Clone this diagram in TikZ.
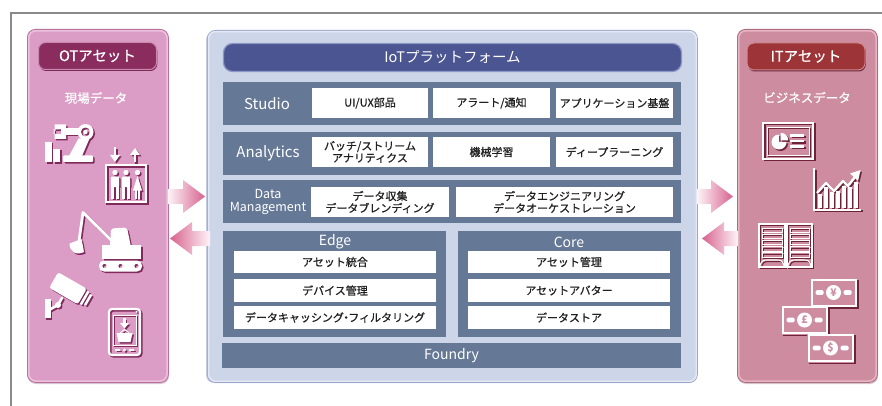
\documentclass[tikz,border=0pt]{standalone}
\usepackage{fontspec}
\setmainfont{Noto Sans CJK JP}
\newfontfamily\jpmed{Noto Sans CJK JP}[FakeBold=0.7]
\usetikzlibrary{calc}

\definecolor{framec}{HTML}{8A8A8A}
\definecolor{otbg}{HTML}{DB9CC5}
\definecolor{otedge}{HTML}{B8709E}
\definecolor{otlight}{HTML}{EDC1DB}
\definecolor{otlabc}{HTML}{8A2C5E}
\definecolor{otlabedge}{HTML}{C989AE}
\definecolor{otshadow}{HTML}{7E2A5A}
\definecolor{itbg}{HTML}{CD8CA0}
\definecolor{itedge}{HTML}{AE6C81}
\definecolor{itlight}{HTML}{E5B5C3}
\definecolor{itlabc}{HTML}{9D3437}
\definecolor{itlabedge}{HTML}{CE8A8F}
\definecolor{itshadow}{HTML}{6E2438}
\definecolor{iotbg}{HTML}{CDD6E8}
\definecolor{iotedge}{HTML}{9AA6CC}
\definecolor{iotlight}{HTML}{E4E9F4}
\definecolor{barc}{HTML}{4B5592}
\definecolor{baredge}{HTML}{8E96C6}
\definecolor{rowc}{HTML}{657896}
\definecolor{txtc}{HTML}{202020}
\definecolor{arrowdark}{HTML}{D8628D}
\definecolor{arrowlight}{HTML}{FDF4F8}

\newcommand\fs[1]{\fontsize{#1}{#1}\selectfont}

% icon drawn twice: an offset dark copy, then the white copy on top
\newcommand\placeicon[3]{%
  \begin{scope}[shift={(1.5,1.5)},icf/.style={fill=#2},icd/.style={draw=#2},ich/.style={fill=#2}]
    #1
  \end{scope}
  \begin{scope}[icf/.style={fill=white},icd/.style={draw=white},ich/.style={fill=#3}]
    #1
  \end{scope}}

% ---- OT icons ----
\newcommand\iconrobot{%
  \fill[icf] (45,142) rectangle (51.5,162);
  \fill[icf] (53,149) rectangle (60,162);
  \fill[icf,rounded corners=1] (63,155.5) rectangle (93,162);
  \fill[icf] (69,156) -- (78.5,138.5) -- (89.5,138.5) -- (82,156) -- cycle;
  \fill[icf] (64,128.5) rectangle (79,135);
  \fill[icf,even odd rule] (85.5,132) circle (8) (85.5,132) circle (4.6);
  \fill[icf] (85.5,132) circle (2.2);
  \fill[icf,even odd rule] (54.5,124.5) rectangle (66,139) (53.5,129.5) rectangle (61,134);}

\newcommand\iconlift{%
  \draw[icd,line width=2.2] (106,165) rectangle (146,202);
  \draw[icd,line width=2.4] (115,147.5) -- (115,157);
  \fill[icf] (110,155) -- (120,155) -- (115,162) -- cycle;
  \draw[icd,line width=2.4] (135,162) -- (135,153);
  \fill[icf] (130,155) -- (140,155) -- (135,148) -- cycle;
  \foreach \px in {115,126}{%
    \fill[icf] (\px,172.5) circle (2.7);
    \fill[icf,rounded corners=1] (\px-4.2,176.5) rectangle (\px+4.2,187);
    \fill[icf] (\px-3.6,186) rectangle (\px-0.6,198.5);
    \fill[icf] (\px+0.6,186) rectangle (\px+3.6,198.5);}
  \fill[icf] (137.5,172.5) circle (2.7);
  \fill[icf] (137.5,176) -- (142,190.5) -- (133,190.5) -- cycle;
  \fill[icf] (134.8,190) rectangle (136.8,198.5);
  \fill[icf] (138.2,190) rectangle (140.2,198.5);}

\newcommand\icondigger{%
  \fill[icf,even odd rule] (99,260.5) [rounded corners=5] rectangle (142,271.5) [sharp corners]
       (104.5,266) circle (2.2) (120.5,266) circle (2.2) (136.5,266) circle (2.2);
  \fill[icf] (102,245) rectangle (141,259);
  \fill[icf,rounded corners=2] (110,247) -- (111,228.5) -- (127,227.5) -- (131,247) -- cycle;
  \draw[icd,line width=2.8,line join=round,line cap=round] (113,242) -- (83,212.5) -- (79,241);
  \fill[icf] (69.5,243.5) .. controls (69.5,251.5) and (76,256) .. (84,252) -- (81.5,239) -- cycle;}

\newcommand\iconcam{%
  \fill[icf] (44.5,299) rectangle (50.5,318);
  \draw[icd,line width=2.6,line cap=round] (49,310) -- (58,305) -- (62,298);
  \fill[icf] (58,305) circle (3);
  \begin{scope}[shift={(71,290)},rotate=-30]
    \fill[icf,rounded corners=2.5] (-20,-9) rectangle (13,9);
    \fill[icf] (14.5,-7.5) rectangle (17,7.5);
    \fill[icf] (18.5,-6) rectangle (21,6);
  \end{scope}}

\newcommand\iconphone{%
  \draw[icd,line width=2.2,rounded corners=3] (109,309) rectangle (140,355);
  \draw[icd,line width=0.9] (113,315) rectangle (136,345);
  \fill[icf] (136.5,311.5) circle (1);
  \draw[icd,line width=1.6] (115,350) -- (120,350) (129,350) -- (134,350);
  \fill[icf] (124.5,350) circle (1.6);
  \draw[icd,line width=2.2] (124.5,318) -- (124.5,324);
  \fill[icf] (120,323) -- (129,323) -- (124.5,328.5) -- cycle;
  \draw[icd,line width=1] (120,333) -- (124.5,329.5) -- (129,333);
  \fill[icf] (116.5,333) -- (132.5,333) -- (130.5,342) -- (118.5,342) -- cycle;}

% ---- IT icons ----
\newcommand\iconcard{%
  \draw[icd,line width=2] (763,123) rectangle (813,159);
  \draw[icd,line width=0.8] (767,127) rectangle (809,155);
  \fill[icf] (779,142) -- ++(7.5,0) arc[start angle=0,end angle=270,radius=7.5] -- cycle;
  \fill[icf] (780.7,140.3) -- ++(0,-7.5) arc[start angle=270,end angle=360,radius=7.5] -- cycle;
  \draw[icd,line width=2.2] (790,135.5) -- (804,135.5) (790,141) -- (804,141) (790,146.5) -- (804,146.5);}

\newcommand\iconchart{%
  \draw[icd,line width=2] (814,168) -- (814,209.5) -- (861,209.5);
  \foreach \bx/\by in {820/194,826/187,832/192,838/191,844/186,850/187,856/182}{%
    \fill[icf] (\bx-1.9,\by) rectangle (\bx+1.9,207.5);}
  \draw[icd,line width=2.4,line join=round] (817,193) -- (826,183) -- (834,191) -- (843,181) -- (848,186) -- (855,177);
  \fill[icf] (850,173.5) -- (860.5,170) -- (858,181) -- cycle;}

\newcommand\iconbook{%
  \draw[icd,line width=1.8] (759,224) rectangle (785,267);
  \draw[icd,line width=1.8] (787,224) rectangle (812,267);
  \foreach \i in {0,...,4}{%
    \draw[icd,line width=1] (762,228+\i*6.2) rectangle (782,232.5+\i*6.2);
    \draw[icd,line width=1] (790,228+\i*6.2) rectangle (809,232.5+\i*6.2);}
  \draw[icd,line width=1.1] (760,266) .. controls (761,261) and (763,260) .. (767,260) -- (777,260) .. controls (781,260) and (783,261) .. (784,266);
  \draw[icd,line width=1.1] (788,266) .. controls (789,261) and (791,260) .. (795,260) -- (804,260) .. controls (808,260) and (810,261) .. (811,266);}

\newcommand\billbody[2]{%
  \fill[ich] (#1-23.5,#2-14.5) rectangle (#1+23.5,#2+14.5);
  \draw[icd,line width=2] (#1-22,#2-13) rectangle (#1+22,#2+13);
  \fill[icf] (#1,#2) circle (7.5);
  \fill[icf,rounded corners=1.3] (#1-18,#2-2.3) rectangle (#1-10,#2+2.3);
  \fill[icf,rounded corners=1.3] (#1+10,#2-2.3) rectangle (#1+18,#2+2.3);}

% ---- block arrows between the panels ----
\newcommand\arrowR[2]{%
  \shade[left color=arrowlight,right color=arrowdark] let \p1=(#1), \p2=(#2) in
    (\x1,{\y1+7.5pt}) -- ({\x2-22pt},{\y1+7.5pt}) -- ({\x2-22pt},{\y1+16.5pt}) -- (\x2,\y1)
    -- ({\x2-22pt},{\y1-16.5pt}) -- ({\x2-22pt},{\y1-7.5pt}) -- (\x1,{\y1-7.5pt}) -- cycle;}
\newcommand\arrowL[2]{%
  \shade[left color=arrowdark,right color=arrowlight] let \p1=(#1), \p2=(#2) in
    (\x1,{\y1+7.5pt}) -- ({\x2+22pt},{\y1+7.5pt}) -- ({\x2+22pt},{\y1+16.5pt}) -- (\x2,\y1)
    -- ({\x2+22pt},{\y1-16.5pt}) -- ({\x2+22pt},{\y1-7.5pt}) -- (\x1,{\y1-7.5pt}) -- cycle;}

\begin{document}
\begin{tikzpicture}[x=1pt,y=-1pt,
  panel/.style={rounded corners=8,line width=0.8,inner sep=0,anchor=north west},
  lab/.style={rounded corners=7,minimum width=118,minimum height=27,text=white,font=\jpmed\fs{14.5},inner sep=0,line width=1},
  subtitle/.style={text=white,font=\jpmed\fs{12.5},inner sep=0},
  row/.style={fill=rowc,inner sep=0,anchor=north west},
  rowlab/.style={text=white,font=\fs{15},inner sep=0,align=center},
  wbox/.style={fill=white,inner sep=0,text=txtc,font=\jpmed\fontsize{11}{12}\selectfont,align=center},
  sym/.style={text=itbg,font=\bfseries\fs{10.5},inner sep=0}]
\useasboundingbox (0,0) rectangle (882,406);

% outer frame
\draw[framec,line width=1.1] (882,13) -- (11,13) -- (11,406);

% ---------------- OT panel ----------------
\fill[otedge!80!black,opacity=0.35,rounded corners=8] (28,31) rectangle (169,384);
\node[panel,fill=otbg,draw=otedge,minimum width=141,minimum height=353] (otp) at (27,29) {};
\draw[otlight,line width=1.5,rounded corners=7] ($(otp.north west)+(1.8,1.8)$) rectangle ($(otp.south east)+(-1.8,-1.8)$);
\node[lab,fill=otlabc,draw=otlabedge,preaction={fill=otshadow,transform canvas={xshift=0.8pt,yshift=-1.5pt}}] (otlab) at (97.5,56) {OTアセット};
\node[subtitle] (otdata) at (96,98) {現場データ};
\placeicon{\iconrobot}{otshadow}{otbg}
\placeicon{\iconlift}{otshadow}{otbg}
\placeicon{\icondigger}{otshadow}{otbg}
\placeicon{\iconcam}{otshadow}{otbg}
\placeicon{\iconphone}{otshadow}{otbg}

% ---------------- IT panel ----------------
\fill[itedge!80!black,opacity=0.35,rounded corners=8] (738,31) rectangle (878,384);
\node[panel,fill=itbg,draw=itedge,minimum width=140,minimum height=353] (itp) at (737,29) {};
\draw[itlight,line width=1.5,rounded corners=7] ($(itp.north west)+(1.8,1.8)$) rectangle ($(itp.south east)+(-1.8,-1.8)$);
\node[lab,fill=itlabc,draw=itlabedge,preaction={fill=itshadow,transform canvas={xshift=0.8pt,yshift=-1.5pt}}] (itlab) at (806,56.5) {ITアセット};
\node[subtitle] (itdata) at (807,97.5) {ビジネスデータ};
\placeicon{\iconcard}{itshadow}{itbg}
\placeicon{\iconchart}{itshadow}{itbg}
\placeicon{\iconbook}{itshadow}{itbg}
\placeicon{\billbody{833.5}{292.5}}{itshadow}{itbg}
\node[sym] (yen) at (833.5,292.5) {¥};
\placeicon{\billbody{804.5}{320}}{itshadow}{itbg}
\node[sym] (pound) at (804.5,320) {£};
\placeicon{\billbody{830.5}{348}}{itshadow}{itbg}
\node[sym] (dollar) at (830.5,348) {\$};

% ---------------- IoT platform ----------------
\fill[iotedge,opacity=0.6,rounded corners=8] (206,32) rectangle (697,383);
\node[panel,fill=iotbg,draw=iotedge,minimum width=490,minimum height=352] (iot) at (207,30) {};
\draw[iotlight,line width=1.4,rounded corners=7] ($(iot.north west)+(1.6,1.6)$) rectangle ($(iot.south east)+(-1.6,-1.6)$);
\node[fill=barc,draw=baredge,line width=1.2,rounded corners=9,minimum width=458,minimum height=28,
      text=white,font=\fs{14.5},inner sep=0] (title) at (452.5,57.5) {IoTプラットフォーム};

% Studio
\node[row,minimum width=458,minimum height=43] (studio) at (223,82) {};
\node[rowlab] (studiolab) at (267,103.5) {Studio};
\node[wbox,minimum width=116,minimum height=30] (uiux) at (370,103) {UI/UX部品};
\node[wbox,minimum width=117,minimum height=30] (alert) at (491.5,103) {アラート/通知};
\node[wbox,minimum width=117,minimum height=30] (appbase) at (614.5,103) {アプリケーション基盤};

% Analytics
\node[row,minimum width=458,minimum height=43] (analytics) at (223,131.5) {};
\node[rowlab] (analyticslab) at (268,153) {Analytics};
\node[wbox,minimum width=116,minimum height=30] (batch) at (370,152) {バッチ/ストリーム\\アナリティクス};
\node[wbox,minimum width=117,minimum height=30] (ml) at (491.5,152) {機械学習};
\node[wbox,minimum width=117,minimum height=30] (dl) at (614.5,152) {ディープラーニング};

% Data Management
\node[row,minimum width=458,minimum height=43] (dm) at (223,180) {};
\node[rowlab,font=\fontsize{12.5}{12.5}\selectfont] (dmlab) at (268,202) {Data\\Management};
\node[wbox,minimum width=138,minimum height=30] (collect) at (380,202) {データ収集\\データブレンディング};
\node[wbox,minimum width=217,minimum height=30] (eng) at (564.5,202) {データエンジニアリング\\データオーケストレーション};

% Edge
\node[row,minimum width=223,minimum height=106] (edge) at (223,231) {};
\node[rowlab,font=\fs{14}] (edgelab) at (335,242) {Edge};
\node[wbox,minimum width=202,minimum height=22] (assetint) at (335,262) {アセット統合};
\node[wbox,minimum width=202,minimum height=23] (devmgmt) at (335,290.5) {デバイス管理};
\node[wbox,minimum width=202,minimum height=23] (caching) at (335,317.5) {データキャッシング{\kern-0.3em}・{\kern-0.3em}フィルタリング};

% Core
\node[row,minimum width=223,minimum height=106] (core) at (458,231) {};
\node[rowlab,font=\fs{14}] (corelab) at (569,242) {Core};
\node[wbox,minimum width=202,minimum height=22] (assetmgmt) at (569,262) {アセット管理};
\node[wbox,minimum width=202,minimum height=23] (avatar) at (569,290.5) {アセットアバター};
\node[wbox,minimum width=202,minimum height=23] (store) at (569,317.5) {データストア};

% Foundry
\node[row,minimum width=459,minimum height=25,text=white,font=\fs{14},anchor=center] (foundry) at (451.5,355.5) {Foundry};

% ---------------- arrows ----------------
\coordinate (otout) at (168,196.5);
\coordinate (iotin) at (205,196.5);
\coordinate (iotout) at (210,238.5);
\coordinate (otin) at (170,238.5);
\coordinate (iotout2) at (697,196.5);
\coordinate (itin) at (733,196.5);
\coordinate (itout) at (738,238.5);
\coordinate (iotin2) at (702,238.5);
\arrowR{otout}{iotin}
\arrowL{iotout}{otin}
\arrowR{iotout2}{itin}
\arrowL{itout}{iotin2}
\end{tikzpicture}
\end{document}
